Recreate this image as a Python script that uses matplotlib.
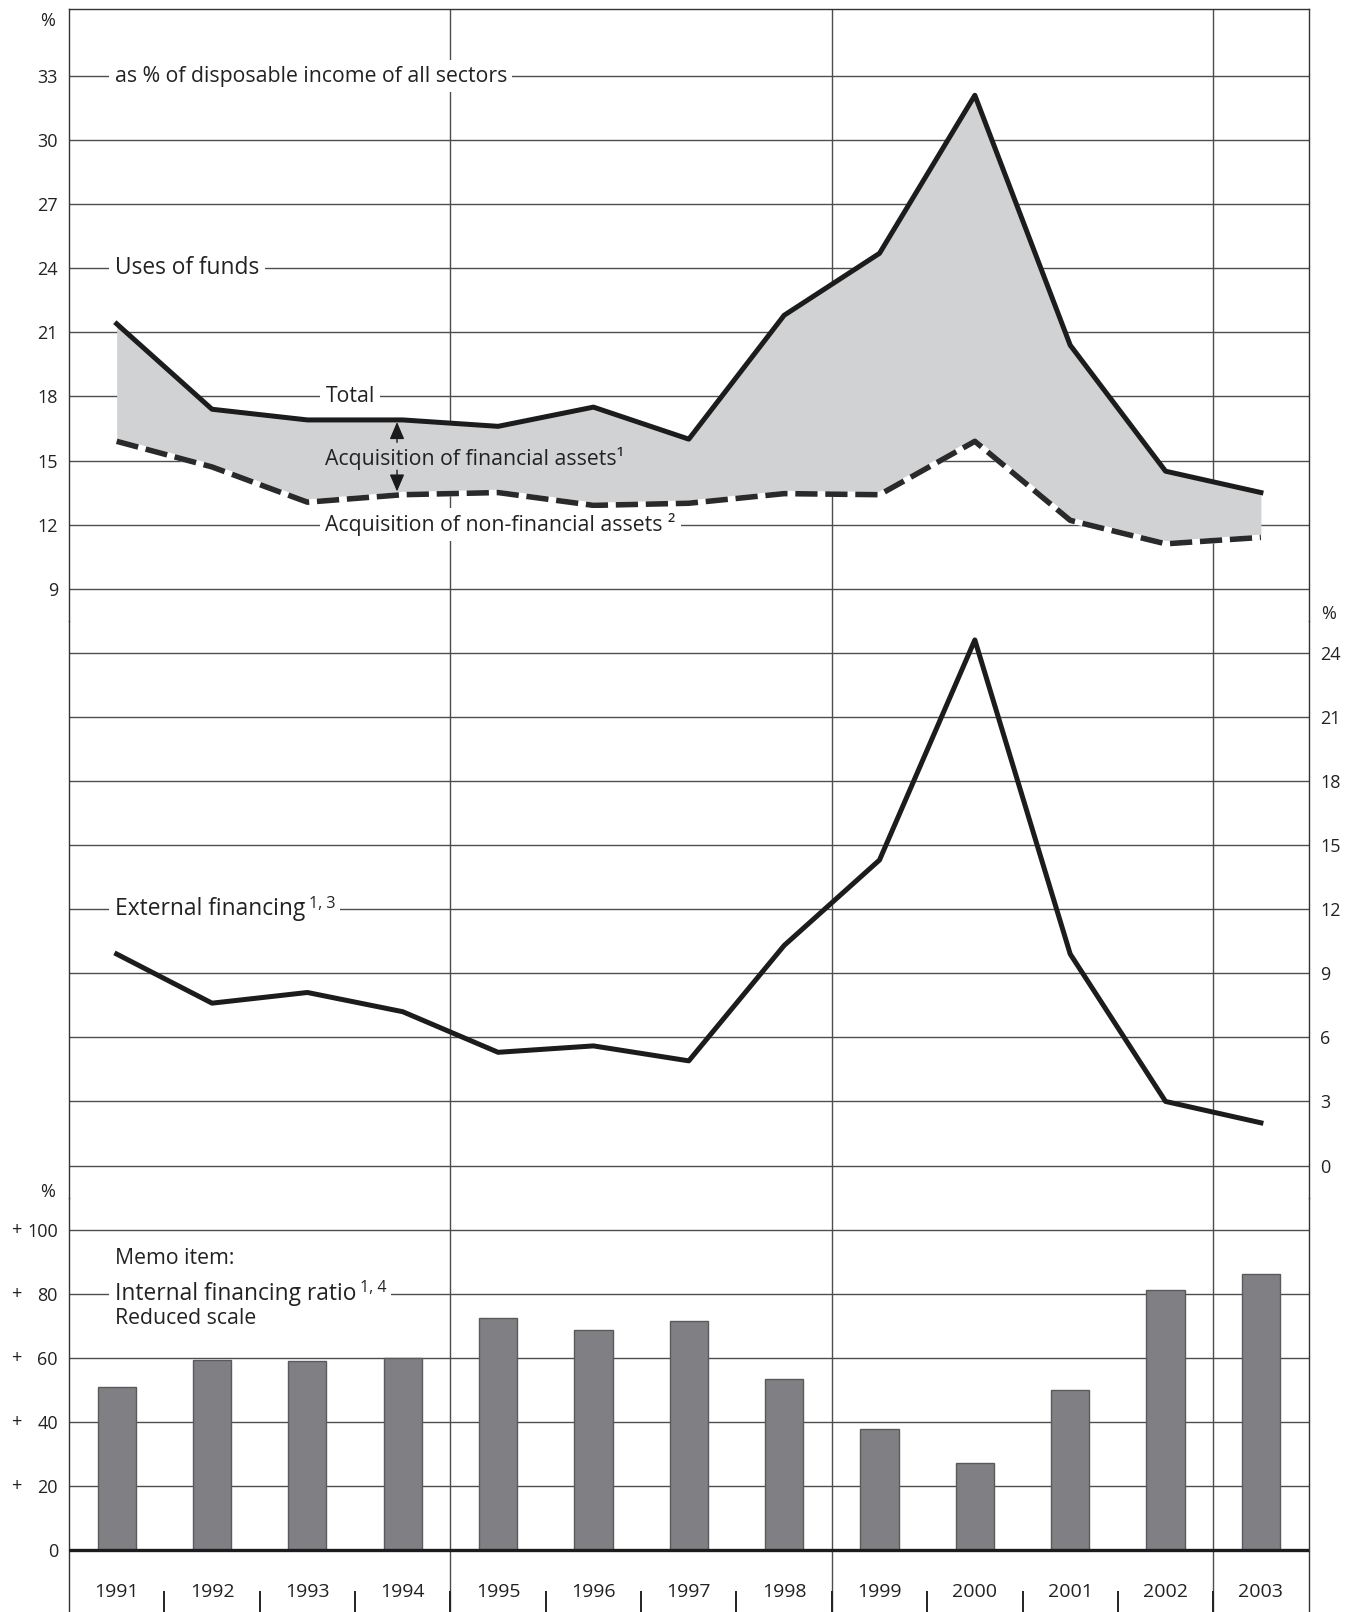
import matplotlib
matplotlib.use('Agg')
import matplotlib.pyplot as plt
import matplotlib.transforms as mtransforms

plt.rcParams['font.family'] = ['Open Sans', 'DejaVu Sans']

# data
years = [1991, 1992, 1993, 1994, 1995, 1996, 1997, 1998, 1999, 2000, 2001, 2002, 2003]
total_uses = [21.4, 17.4, 16.9, 16.9, 16.6, 17.5, 16.0, 21.8, 24.7, 32.1, 20.4, 14.5, 13.5]
non_financial = [15.9, 14.7, 13.05, 13.4, 13.5, 12.9, 13.0, 13.45, 13.4, 15.9, 12.2, 11.1, 11.4]
external_fin = [9.9, 7.6, 8.1, 7.2, 5.3, 5.6, 4.9, 10.3, 14.3, 24.6, 9.9, 3.0, 2.0]
internal_ratio = [51.0, 59.3, 59.0, 59.9, 72.4, 68.6, 71.5, 53.5, 37.8, 27.2, 50.0, 81.1, 86.2]

top_ticks = [9, 12, 15, 18, 21, 24, 27, 30, 33]
mid_ticks = [0, 3, 6, 9, 12, 15, 18, 21, 24]
bot_ticks = [20, 40, 60, 80, 100]
separators = [1994.5, 1998.5, 2002.5]

txt = '#222222'
grid_c = '#4d4d4d'
fs_tick = 13
fs_text = 15.3
fs_big = 16.4
fs_sup = 11.5

fig = plt.figure(figsize=(13.54, 16.12), dpi=100)
left, width = 0.05096, 0.9155
ax1 = fig.add_axes([left, 0.61495, width, 0.37947])
ax2 = fig.add_axes([left, 0.25707, width, 0.35788])
ax3 = fig.add_axes([left, 0.0, width, 0.25707])

for ax in (ax1, ax2, ax3):
    ax.set_xlim(1990.5, 2003.5)
    ax.set_facecolor('none')
    ax.set_axisbelow(True)
    for s in ax.spines.values():
        s.set_color('#333333')
        s.set_linewidth(1.0)
    for xv in separators:
        ax.axvline(xv, color=grid_c, lw=1.0, zorder=0.5)
    ax.tick_params(axis='x', which='both', bottom=False, labelbottom=False)

bb = dict(boxstyle='square,pad=0.25', facecolor='white', edgecolor='none')


def superscript(ax, label, s):
    # small raised footnote marks placed right after a label
    ax.annotate(s, xy=(1, 1), xycoords=label, xytext=(3, 1),
                textcoords='offset points', fontsize=fs_sup, color=txt,
                ha='left', va='top', bbox=bb, zorder=6)


# ---- top panel: uses of funds
ax1.set_ylim(7.5, 36.14)
ax1.spines['bottom'].set_visible(False)
ax1.set_yticks(top_ticks)
ax1.tick_params(axis='y', length=0, pad=8, labelsize=fs_tick, labelcolor=txt)
ax1.grid(axis='y', color=grid_c, lw=1.0)
ax1.fill_between(years, non_financial, total_uses, color='#d1d2d4', lw=0, zorder=1)
ax1.plot(years, non_financial, color='white', lw=4.0, zorder=3)
ax1.plot(years, non_financial, color='#2a2a2a', lw=4.0, ls=(0, (4.0, 1.4)), zorder=4)
ax1.plot(years, total_uses, color='#1c1c1c', lw=3.6, zorder=5)

ax1.text(1990.98, 33, 'as % of disposable income of all sectors', fontsize=fs_text,
         color=txt, va='center', ha='left', bbox=bb, zorder=6)
ax1.text(1990.98, 24, 'Uses of funds', fontsize=fs_big, color=txt, va='center',
         ha='left', bbox=bb, zorder=6)
ax1.text(1993.19, 18, 'Total', fontsize=fs_text, color=txt, va='center', ha='left',
         bbox=bb, zorder=6)
ax1.text(1993.19, 15.1, 'Acquisition of financial assets¹', fontsize=fs_text, color=txt,
         va='center', ha='left', zorder=6)
ax1.text(1993.19, 12, 'Acquisition of non-financial assets ²', fontsize=fs_text,
         color=txt, va='center', ha='left', bbox=bb, zorder=6)
arrow = dict(arrowstyle='-|>,head_length=0.7,head_width=0.3', color='#1a1a1a', lw=1.0,
             mutation_scale=15, shrinkA=0, shrinkB=0)
ax1.annotate('', xy=(1993.94, 16.8), xytext=(1993.94, 15.85), arrowprops=arrow, zorder=6)
ax1.annotate('', xy=(1993.94, 13.55), xytext=(1993.94, 14.55), arrowprops=arrow, zorder=6)

tr1 = mtransforms.blended_transform_factory(ax1.transAxes, ax1.transData)
ax1.text(-0.017, 35.6, '%', transform=tr1, fontsize=fs_tick, color=txt,
         ha='center', va='center', clip_on=False)

# ---- middle panel: external financing
ax2.set_ylim(-1.5, 25.5)
ax2.spines['top'].set_visible(False)
ax2.spines['bottom'].set_visible(False)
ax2.set_yticks(mid_ticks)
ax2.yaxis.tick_right()
ax2.tick_params(axis='y', length=0, pad=8.2, labelsize=fs_tick, labelcolor=txt)
ax2.grid(axis='y', color=grid_c, lw=1.0)
ax2.plot(years, external_fin, color='#1c1c1c', lw=3.6, zorder=5)
ext_lab = ax2.text(1990.98, 12, 'External financing', fontsize=fs_big, color=txt,
                   va='center', ha='left', bbox=bb, zorder=6)
superscript(ax2, ext_lab, '1, 3')
tr2 = mtransforms.blended_transform_factory(ax2.transAxes, ax2.transData)
ax2.text(1.0164, 25.8, '%', transform=tr2, fontsize=fs_tick, color=txt,
         ha='center', va='center', clip_on=False)

# ---- bottom panel: internal financing ratio
ax3.set_ylim(-19.35, 110)
ax3.spines['top'].set_visible(False)
ax3.spines['bottom'].set_visible(False)
ax3.set_yticks([0] + bot_ticks)
ax3.tick_params(axis='y', length=0, pad=8, labelsize=fs_tick, labelcolor=txt)
ax3.grid(axis='y', color=grid_c, lw=1.0)
ax3.bar(years, internal_ratio, width=0.4, color='#808084', edgecolor='#5a5a5a',
        lw=1.0, zorder=2)
ax3.axhline(0, color='#1c1c1c', lw=2.4, zorder=3)
tr3 = mtransforms.blended_transform_factory(ax3.transAxes, ax3.transData)
for v in bot_ticks:
    ax3.text(-0.0424, v, '+', transform=tr3, fontsize=fs_tick, color=txt,
             ha='center', va='center', clip_on=False)
ax3.text(-0.017, 111.8, '%', transform=tr3, fontsize=fs_tick, color=txt,
         ha='center', va='center', clip_on=False)

ax3.text(1990.98, 91.1, 'Memo item:', fontsize=fs_text, color=txt, va='center',
         ha='left', zorder=7)
int_lab = ax3.text(1990.98, 80, 'Internal financing ratio', fontsize=fs_big,
                   color=txt, va='center', ha='left', bbox=bb, zorder=6)
superscript(ax3, int_lab, '1, 4')
ax3.text(1990.98, 72.3, 'Reduced scale', fontsize=fs_text, color=txt, va='center',
         ha='left', zorder=7)

# year labels and the small dividers below the axis
ax3.set_xticks([y + 0.5 for y in years[:-1]], minor=True)
ax3.tick_params(axis='x', which='minor', bottom=True, direction='in', length=15,
                width=1.4, color='#222222')
for y in years:
    ax3.text(y, -13.1, str(y), fontsize=14, color=txt, ha='center', va='center')

fig.savefig('out.png', dpi=100)
